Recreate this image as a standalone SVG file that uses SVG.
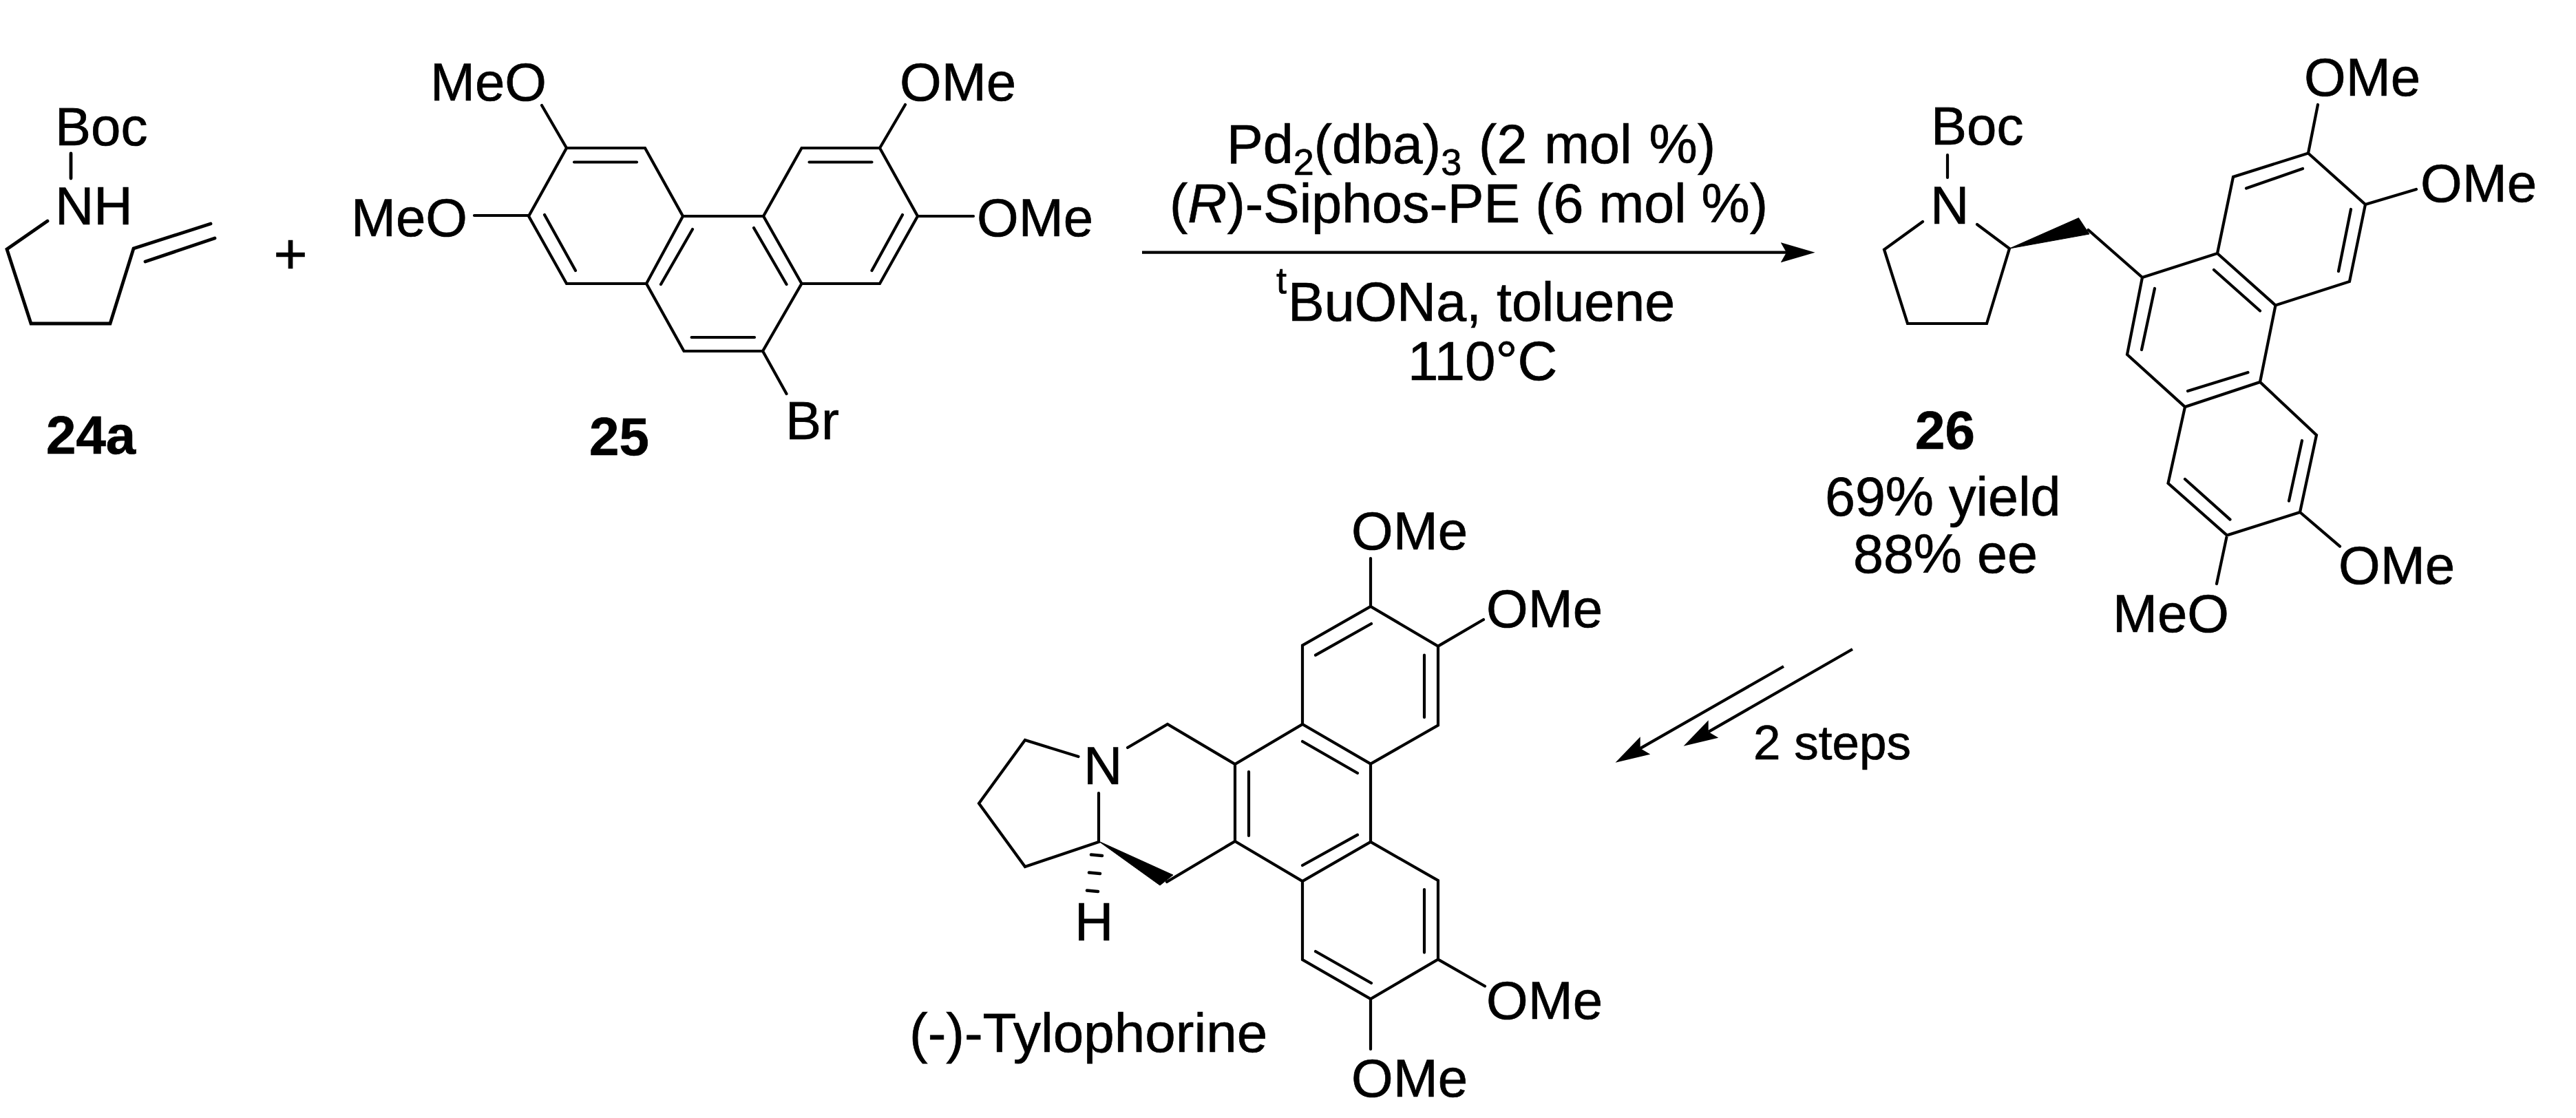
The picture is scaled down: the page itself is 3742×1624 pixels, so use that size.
<svg xmlns="http://www.w3.org/2000/svg" width="3742" height="1624" viewBox="0 0 3742 1624">
<style>
text{font-family:"Liberation Sans",Arial,sans-serif;font-size:78px;fill:#000;stroke:#000;stroke-width:.7}
.b{font-weight:700}
.r{font-size:79px}
.sm{font-size:54px}
.bond{fill:none;stroke:#000;stroke-width:4.2;stroke-linecap:round;stroke-linejoin:miter}
.thick{stroke-width:4.8}
.solid{fill:#000;stroke:#000;stroke-width:1}
.arrow{fill:none;stroke:#000;stroke-width:4.2;marker-end:url(#head)}
</style>
<defs>
<marker id="head" markerUnits="userSpaceOnUse" markerWidth="50" markerHeight="30" viewBox="0 0 48 28" refX="8" refY="14" orient="auto"><path d="M48,14L0,0L8,14L0,28Z" fill="#000"/></marker>
</defs>
<rect width="3742" height="1624" fill="#fff"/>

<g id="compound-24a">
<path class="bond thick" d="M103,223V259M69,321L10,362L45,470H160L194,361L306,325M211,380L312,346"/>
<text x="80" y="211">Boc</text>
<text x="80" y="326">NH</text>
<text class="b" x="67" y="659">24a</text>
</g>

<g id="plus"><text x="422" y="397" text-anchor="middle" style="font-size:84px">+</text></g>

<g id="compound-25">
<path class="bond" d="M787,153L823,215H937L992,314L939,412H823L768,314L823,215M689,313H768M834,235.5H925M791,312L836,393M1006,333L960,413M992,314H1109L1164.5,215H1278L1333,314L1278,412H1164.5L1109,314M1175.5,235.5H1266.5M1311,312L1266.5,393M1095,331L1142.5,413M939,412L993.5,510H1108L1164.5,412M1004.6,490H1096M1108,510L1142.5,572M1315,152L1278,215M1333,314H1414"/>
<text x="625" y="146">MeO</text>
<text x="510" y="342.5">MeO</text>
<text x="1307" y="146">OMe</text>
<text x="1419" y="342.5">OMe</text>
<text x="1141" y="637.5">Br</text>
<text class="b" x="856" y="661">25</text>
</g>

<g id="conditions">
<text class="r" x="1782" y="236.7" word-spacing="3">Pd<tspan class="sm" dy="17">2</tspan><tspan dy="-17">(dba)</tspan><tspan class="sm" dy="17">3</tspan><tspan dy="-17"> (2 mol %)</tspan></text>
<text class="r" x="1699" y="323">(<tspan font-style="italic">R</tspan>)-Siphos-PE (6 mol %)</text>
<text class="sm" x="1854" y="426">t</text>
<text class="r" x="1871" y="465.7">BuONa, toluene</text>
<text x="2045" y="552" style="font-size:80px">110°C</text>
</g>

<g id="compound-26">
<path class="bond" d="M2829,225V258M2793,322L2737,362.5L2771,470H2886L2919,361L2872,326M3033.5,334L3112,403L3090,515L3174,591L3283,555L3365,632L3341,744L3235,777.6L3149.5,702L3174,591M3112,403L3221,368L3305.5,443.5L3413,409L3436,297L3353,222.5L3244,257L3221,368M3305.5,443.5L3283,555M3345,245L3263,273.5M3415,304L3397,394M3216,392L3283,451.5M3130,419L3111,508M3265.5,541L3178,568M3344,640L3325,727.6M3239.5,754.6L3174,696M3353,222.5L3367,152M3436,297L3510,275M3341,744L3399,793.6M3235,777.6L3220,848"/>
<path class="solid" d="M2919,361L3019.5,316.6L3035,340Z"/>
<text x="2805" y="210.4">Boc</text>
<text x="2804" y="325">N</text>
<text x="3347" y="139">OMe</text>
<text x="3516" y="292.5">OMe</text>
<text x="3397" y="847.6">OMe</text>
<text x="3069" y="918">MeO</text>
<text class="b" x="2782" y="652">26</text>
<text class="r" x="2651" y="749">69% yield</text>
<text class="r" x="2692" y="832">88% ee</text>
</g>

<g id="tylophorine">
<path class="bond" d="M1566.5,1099L1489,1075L1422,1167L1489,1259L1596,1223V1152M1638,1086L1696,1052L1794,1110L1892,1052V937.5L1991,881L2089,938.6V1053.6L1991,1109.5L1892,1052M1794,1110V1222L1695,1281M1794,1222L1892,1280L1991,1223L2089,1279V1393.6L1991,1451L1892,1394V1280M1991,1109.5V1223M1814,1121V1214M1892,1077L1972,1123M1892,1257L1972,1212.7M1992,906L1911,951.6M2069,951.6V1042M2069,1292V1383.6M1992,1428L1911,1382M1991,881V811M2089,938.6L2155,900M2089,1393.6L2157,1432.5M1991,1451V1524"/>
<path class="solid" d="M1596,1222L1704,1271L1685,1286Z"/>
<path class="bond" style="stroke-width:4.5" d="M1585,1241.5L1601,1243M1582,1267.5L1598,1269M1579,1293.5L1595,1295"/>
<text x="1574" y="1139">N</text>
<text x="1561" y="1366">H</text>
<text x="1321" y="1528" style="font-size:80px">(-)-Tylophorine</text>
<text x="1963" y="798.4">OMe</text>
<text x="2159" y="911">OMe</text>
<text x="2159" y="1479.6">OMe</text>
<text x="1963" y="1593">OMe</text>
</g>

<g id="connectors">
<path class="arrow" d="M1659,366.7H2595"/>
<path class="arrow" d="M2591,968L2382.7,1087.1"/>
<path class="arrow" d="M2691,943L2481.7,1063.1"/>
</g>
<g id="steps-label"><text x="2547" y="1103" style="font-size:71px">2 steps</text></g>
</svg>
